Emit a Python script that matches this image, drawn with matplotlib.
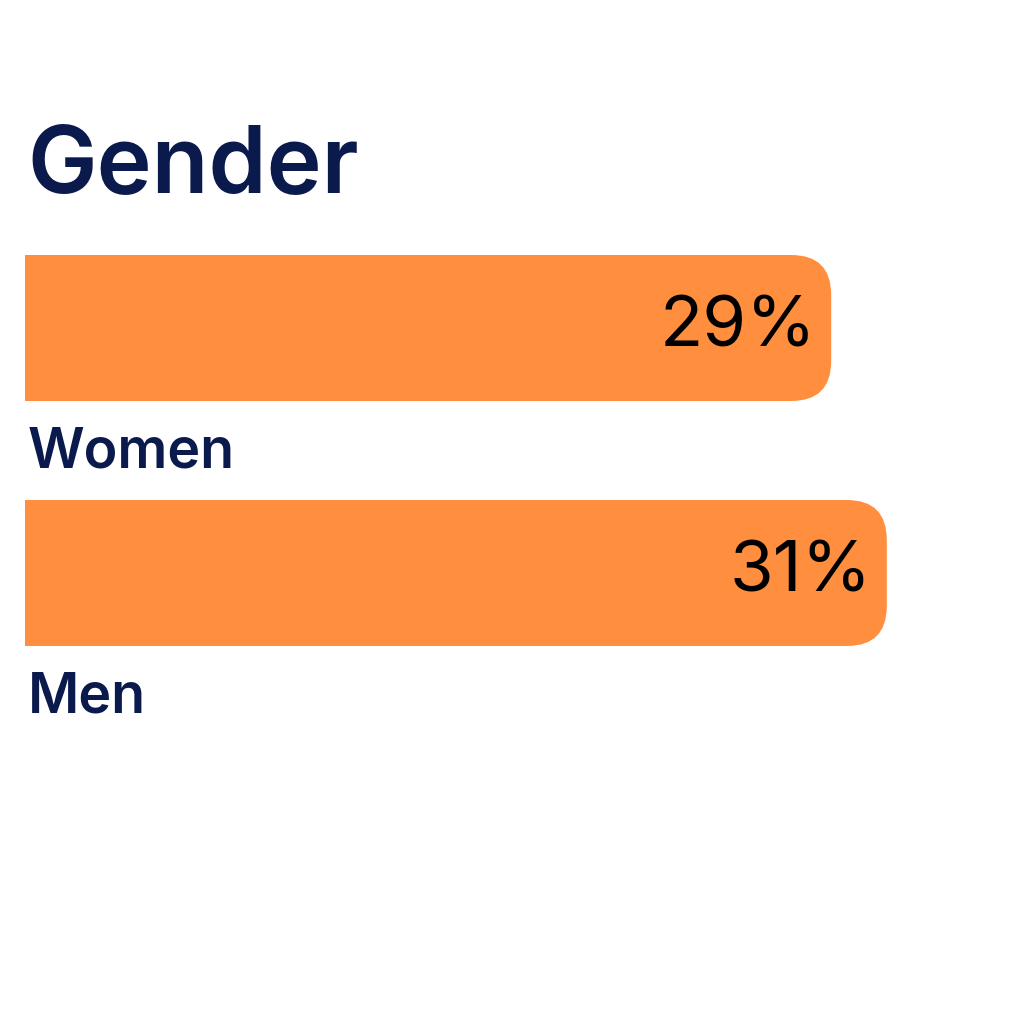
import matplotlib.pyplot as plt
import matplotlib.patches as patches

categories = ["Women", "Men"]
values = [29, 31]
title = "Gender"

bar_color = "#FF8F3E"
navy = "#0B1A4C"

fig = plt.figure(figsize=(10.24, 10.24), dpi=100)
fig.patch.set_facecolor("white")
ax = fig.add_axes([0, 0, 1, 1])
ax.set_facecolor("white")

# 1 % = 27.8 px, bars start 25 px from the left edge
px_x = 27.8
px_y = 245.0
ax.set_xlim(-25 / px_x, (1024 - 25) / px_x)
ax.set_ylim((1024 - 328) / px_y, -328 / px_y)
ax.axis("off")

bar_h = 146 / px_y
radius = 40 / px_x
aspect = (40 / px_y) / radius

ypos = list(range(len(categories)))
bars = ax.barh(ypos, values, height=bar_h, color="none")

for b, val, cat in zip(bars, values, categories):
    x0, y0 = b.get_x(), b.get_y()
    w, h = b.get_width(), b.get_height()
    rounded = patches.FancyBboxPatch(
        (x0, y0), w, h,
        boxstyle=f"round,pad=0,rounding_size={radius}",
        mutation_aspect=aspect,
        linewidth=0, facecolor=bar_color)
    ax.add_patch(rounded)
    # square off the left end
    ax.add_patch(patches.Rectangle((x0, y0), w - 2 * radius, h,
                                   linewidth=0, facecolor=bar_color))
    ax.text(w - 15 / px_x, y0 + h / 2, f"{val}%", ha="right", va="center",
            fontsize=51, color="black", family="Inter", fontweight="normal")
    # category label under the bar
    ax.text(3 / px_x, y0 + h + 66 / px_y, cat, ha="left", va="baseline",
            fontsize=40, color=navy, family="Inter", fontweight="semibold")

fig.text(27 / 1024, 1 - 193 / 1024, title, ha="left", va="baseline",
         fontsize=67, color=navy, family="Inter", fontweight="semibold")

fig.savefig("out.png", dpi=100, facecolor="white")
plt.close(fig)
